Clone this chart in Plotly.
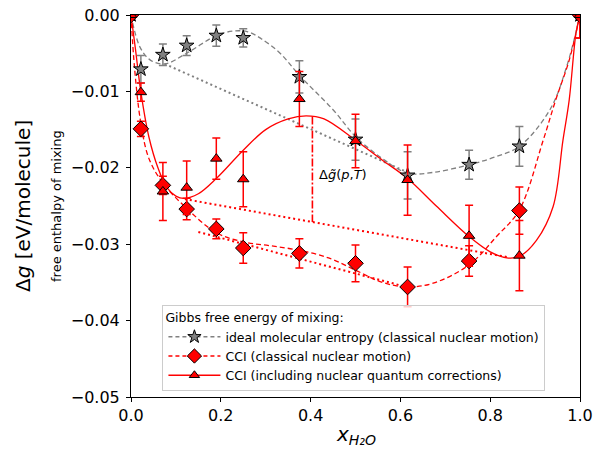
import plotly.graph_objects as go

# ---------------- data ----------------
x_frac = [0.0, 0.022, 0.071, 0.124, 0.19, 0.25, 0.375, 0.5, 0.616, 0.753, 0.865, 1.0]

ideal_vals = [0.0, -0.0071, -0.0052, -0.0040, -0.0027, -0.0030, -0.0081, -0.0163, -0.0210, -0.0196, -0.0172, 0.0]
ideal_err = [0.0, 0.0018, 0.0014, 0.0013, 0.0014, 0.0012, 0.0021, 0.0027, 0.0031, 0.0019, 0.0026, 0.0]

cci_vals = [0.0, -0.0149, -0.0223, -0.0254, -0.0280, -0.0305, -0.0312, -0.0325, -0.0356, -0.0322, -0.0256, 0.0]
cci_err = [0.0, 0.0010, 0.0012, 0.0014, 0.0013, 0.0020, 0.0019, 0.0024, 0.0026, 0.0020, 0.0031, 0.0030]

nqc_vals = [0.0, -0.0101, -0.0231, -0.0226, -0.0188, -0.0215, -0.0110, -0.0165, -0.0216, -0.0289, -0.0315, 0.0]
nqc_err = [0.0, 0.0012, 0.0038, 0.0035, 0.0027, 0.0036, 0.0036, 0.0035, 0.0046, 0.0040, 0.0046, 0.0030]

# fitted curves
ideal_fit_x = [0, 0.02, 0.043, 0.076, 0.124, 0.19, 0.228, 0.26, 0.29, 0.332, 0.375, 0.45, 0.5, 0.56,
               0.616, 0.673, 0.753, 0.81, 0.865, 0.933, 0.97, 1.0]
ideal_fit_y = [0, -0.0042, -0.0059, -0.0064, -0.0050, -0.0027, -0.0021, -0.0022, -0.0031, -0.0050,
               -0.0079, -0.0124, -0.0159, -0.0188, -0.0207, -0.0206, -0.0196, -0.0186, -0.0172,
               -0.0124, -0.0068, 0]

cci_fit_x = [0, 0.008, 0.022, 0.04, 0.071, 0.124, 0.19, 0.25, 0.31, 0.375, 0.44, 0.5, 0.56, 0.616,
             0.673, 0.753, 0.814, 0.865, 0.918, 0.946, 0.976, 1.0]
cci_fit_y = [0, -0.0070, -0.0142, -0.0188, -0.0220, -0.0253, -0.0285, -0.0297, -0.0302, -0.0308,
             -0.0318, -0.0334, -0.0350, -0.0356, -0.0351, -0.0327, -0.0290, -0.0255, -0.0164,
             -0.0111, -0.0059, 0]

nqc_fit_x = [0, 0.01, 0.022, 0.04, 0.06, 0.08, 0.1, 0.118, 0.15, 0.19, 0.25, 0.3, 0.35, 0.39, 0.43,
             0.5, 0.56, 0.616, 0.68, 0.753, 0.8, 0.837, 0.865, 0.903, 0.94, 0.962, 0.976, 0.991, 1.0]
nqc_fit_y = [0, -0.0045, -0.0101, -0.0160, -0.0200, -0.0226, -0.0237, -0.0240, -0.0234, -0.0214,
             -0.0177, -0.0150, -0.0136, -0.0132, -0.0136, -0.0164, -0.0190, -0.0214, -0.0250,
             -0.0290, -0.0310, -0.0318, -0.0316, -0.0295, -0.0251, -0.0164, -0.0111, -0.0024, 0]

# common tangents and the gap marker
ideal_tangent_x = [0.075, 0.62]
ideal_tangent_y = [-0.0064, -0.0207]
cci_tangent_x = [0.15, 0.62]
cci_tangent_y = [-0.0284, -0.0357]
nqc_tangent_x = [0.12, 0.84]
nqc_tangent_y = [-0.0241, -0.0317]
gap_x = [0.404, 0.404]
gap_y = [-0.0133, -0.0271]

y_ticks = [0.0, -0.01, -0.02, -0.03, -0.04, -0.05]
y_tick_text = ["0.00", "\u22120.01", "\u22120.02", "\u22120.03", "\u22120.04", "\u22120.05"]
x_ticks = [0.0, 0.2, 0.4, 0.6, 0.8, 1.0]
x_tick_text = ["0.0", "0.2", "0.4", "0.6", "0.8", "1.0"]

legend_names = [
    "ideal molecular entropy (classical nuclear motion)",
    "CCI (classical nuclear motion)",
    "CCI (including nuclear quantum corrections)",
]

FONT = "DejaVu Sans"
GRAY = "#808080"
RED = "#ff0000"

fig = go.Figure()

# curves
fig.add_trace(go.Scatter(x=ideal_fit_x, y=ideal_fit_y, mode="lines", line_shape="spline",
                         line=dict(color=GRAY, width=1.3, dash="5px,3px"), showlegend=False,
                         hoverinfo="skip"))
fig.add_trace(go.Scatter(x=ideal_tangent_x, y=ideal_tangent_y, mode="lines",
                         line=dict(color=GRAY, width=2, dash="2px,3px"), showlegend=False))
fig.add_trace(go.Scatter(x=cci_fit_x, y=cci_fit_y, mode="lines", line_shape="spline",
                         line=dict(color=RED, width=1.3, dash="5px,3px"), showlegend=False))
fig.add_trace(go.Scatter(x=cci_tangent_x, y=cci_tangent_y, mode="lines",
                         line=dict(color=RED, width=2, dash="2px,3px"), showlegend=False))
fig.add_trace(go.Scatter(x=nqc_fit_x, y=nqc_fit_y, mode="lines", line_shape="spline",
                         line=dict(color=RED, width=1.3), showlegend=False))
fig.add_trace(go.Scatter(x=nqc_tangent_x, y=nqc_tangent_y, mode="lines",
                         line=dict(color=RED, width=2, dash="2px,3px"), showlegend=False))
fig.add_trace(go.Scatter(x=gap_x, y=gap_y, mode="lines",
                         line=dict(color=RED, width=1.6, dash="8px,2px,2px,2px"), showlegend=False))

# data points with error bars
fig.add_trace(go.Scatter(x=x_frac, y=ideal_vals, mode="markers", showlegend=False,
                         error_y=dict(type="data", array=ideal_err, color=GRAY, thickness=1.5, width=4),
                         marker=dict(symbol="star", size=11, color=GRAY,
                                     line=dict(color="black", width=1))))
fig.add_trace(go.Scatter(x=x_frac, y=cci_vals, mode="markers", showlegend=False,
                         error_y=dict(type="data", array=cci_err, color=RED, thickness=1.5, width=4),
                         marker=dict(symbol="diamond", size=12, color=RED,
                                     line=dict(color="black", width=1))))
fig.add_trace(go.Scatter(x=x_frac, y=nqc_vals, mode="markers", showlegend=False,
                         error_y=dict(type="data", array=nqc_err, color=RED, thickness=1.5, width=4),
                         marker=dict(symbol="triangle-up", size=10, color=RED,
                                     line=dict(color="black", width=1))))

# legend entries
fig.add_trace(go.Scatter(x=[None], y=[None], mode="lines+markers", name=legend_names[0],
                         line=dict(color=GRAY, width=1.3, dash="4px,3px"),
                         marker=dict(symbol="star", size=10, color=GRAY, line=dict(color="black", width=1))))
fig.add_trace(go.Scatter(x=[None], y=[None], mode="lines+markers", name=legend_names[1],
                         line=dict(color=RED, width=1.3, dash="4px,3px"),
                         marker=dict(symbol="diamond", size=11, color=RED, line=dict(color="black", width=1))))
fig.add_trace(go.Scatter(x=[None], y=[None], mode="lines+markers", name=legend_names[2],
                         line=dict(color=RED, width=1.3),
                         marker=dict(symbol="triangle-up", size=9, color=RED, line=dict(color="black", width=1))))

fig.add_annotation(x=0.415, y=-0.0209, xref="x", yref="y", text="\u0394<i>g\u0303</i>(<i>p</i>,<i>T</i>)",
                   showarrow=False, xanchor="left", yanchor="middle",
                   font=dict(family=FONT, size=13, color="black"))

fig.add_annotation(x=0, y=0.5, xref="paper", yref="paper", xshift=-108, textangle=-90,
                   text="\u0394<i>g</i> [eV/molecule]", showarrow=False,
                   xanchor="center", yanchor="middle", font=dict(family=FONT, size=20, color="black"))
fig.add_annotation(x=0, y=0.5, xref="paper", yref="paper", xshift=-75, textangle=-90,
                   text="free enthalpy of mixing", showarrow=False,
                   xanchor="center", yanchor="middle", font=dict(family=FONT, size=13, color="black"))
fig.add_annotation(x=0.5, y=0, xref="paper", yref="paper", yshift=-38,
                   text="<i>x</i><sub><i>H\u2082O</i></sub>", showarrow=False,
                   xanchor="center", yanchor="middle", font=dict(family=FONT, size=20, color="black"))

fig.update_layout(
    template="none",
    width=608, height=449,
    margin=dict(l=131, r=28, t=15, b=52, autoexpand=False),
    paper_bgcolor="white", plot_bgcolor="white",
    font=dict(family=FONT, color="black"),
    legend=dict(
        title=dict(text="Gibbs free energy of mixing:", font=dict(family=FONT, size=12.5)),
        x=0.07, y=0.016, xanchor="left", yanchor="bottom",
        bgcolor="rgba(255,255,255,0.8)", bordercolor="#cccccc", borderwidth=1,
        font=dict(family=FONT, size=12.5), tracegroupgap=0, itemwidth=52,
    ),
    xaxis=dict(range=[0, 1], tickvals=x_ticks, ticktext=x_tick_text, showgrid=False, zeroline=False,
               showline=True, linecolor="black", linewidth=1, mirror=True, ticks="outside",
               ticklen=4, tickcolor="black", tickfont=dict(family=FONT, size=16), automargin=False),
    yaxis=dict(range=[-0.05, 0], tickvals=y_ticks, ticktext=y_tick_text, showgrid=False, zeroline=False,
               showline=True, linecolor="black", linewidth=1, mirror=True, ticks="outside",
               ticklen=4, tickcolor="black", tickfont=dict(family=FONT, size=16), automargin=False,
               ticklabelstandoff=3),
)

fig.write_html("out.html", config={"displayModeBar": False},
               post_script="document.body.style.margin='0';document.body.style.overflow='hidden';")
